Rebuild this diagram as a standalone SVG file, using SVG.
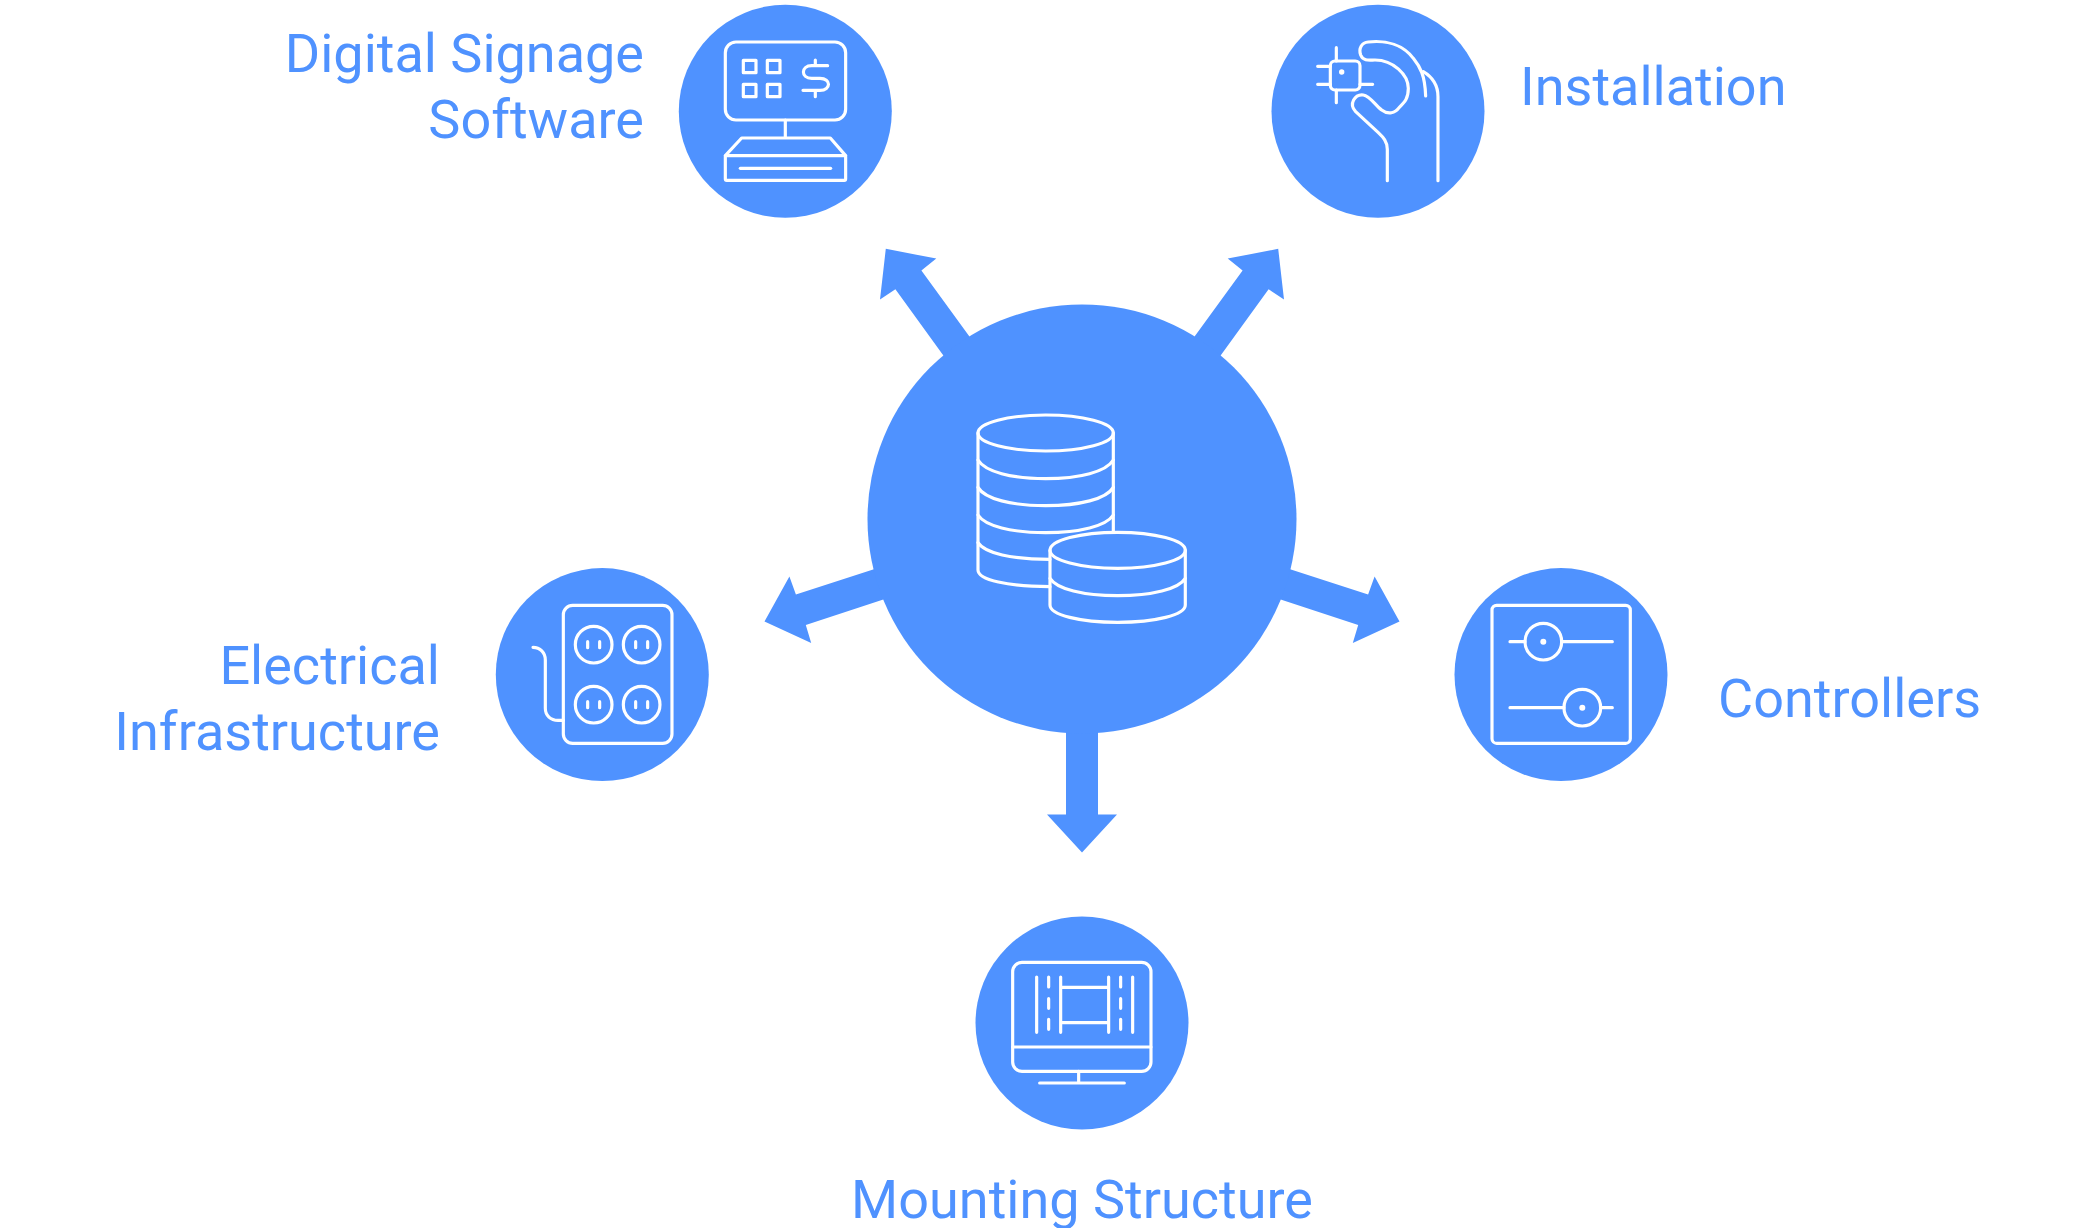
<svg xmlns="http://www.w3.org/2000/svg" width="2089" height="1228" viewBox="0 0 2089 1228">
<style>
.b{fill:#4f92ff}
.i{fill:none;stroke:#fff;stroke-width:9.5;stroke-linecap:round;stroke-linejoin:round}
.d{fill:#fff}
.t{font-family:Roboto,sans-serif;font-size:54px;fill:#4f92ff}
</style>
<rect width="2089" height="1228" fill="#fff"/>
<g id="connectors" class="b">
<polygon points="885.8,248.8 936.3,258.6 921.4,270.4 977.8,348 951.7,367 895.4,289.2 880,299.4"/>
<polygon points="1278.2,248.8 1227.7,258.6 1242.6,270.4 1186.2,348 1212.3,367 1268.6,289.2 1284,299.4"/>
<polygon points="764.5,621.4 789.4,576.5 795.9,594.5 887,565 897,595 805.8,625 811.2,643"/>
<polygon points="1399.5,621.4 1374.6,576.5 1368.1,594.5 1277,565 1267,595 1358.2,625 1352.8,643"/>
<polygon points="1066,725 1098,725 1098,814.5 1117,814.5 1082,852.4 1047,814.5 1066,814.5"/>
</g>
<g id="hub">
<circle class="b" cx="1082" cy="519" r="214.5"/>
<g class="i" transform="translate(940 390) scale(.3333)">
<ellipse cx="317" cy="129" rx="203" ry="54"/>
<path d="M114 129V540C114 570 205 590 330 590M520 129V424"/>
<path d="M114 210C135 245 215 266 317 266S499 245 520 210"/>
<path d="M114 292C135 327 215 347 317 347S499 327 520 292"/>
<path d="M114 375C135 408 215 428 317 428S499 408 520 375"/>
<path d="M114 458C135 490 215 508 330 508"/>
<ellipse cx="533" cy="481" rx="203" ry="54"/>
<path d="M330 481V645C330 675 420 697 533 697S736 675 736 645V481"/>
<path d="M330 565C350 597 430 617 533 617S716 597 736 565"/>
</g>
</g>
<g id="signage">
<circle class="b" cx="785.3" cy="111.3" r="106.5"/>
<g class="i" transform="translate(660 0) scale(.3333)">
<rect x="196" y="126" width="361" height="234" rx="32"/>
<rect x="250" y="181" width="38" height="37"/><rect x="322" y="181" width="38" height="37"/>
<rect x="250" y="253" width="38" height="37"/><rect x="322" y="253" width="38" height="37"/>
<path d="M503 197H455C422 197 422 235 455 235H480C514 235 514 271 480 271H429M466 180V197M466 271V290"/>
<path d="M376 360V414M196 467L245 414H511L557 467"/>
<rect x="196" y="467" width="361" height="74" rx="4"/>
<path d="M241 505H512"/>
</g>
</g>
<g id="installation">
<circle class="b" cx="1378" cy="111.3" r="106.5"/>
<g class="i" transform="translate(1260 0) scale(.3333)">
<rect x="211" y="183" width="89" height="87" rx="14"/>
<path d="M229 143V183M229 270V308M173 199H211M173 253H211M300 253H338"/>
<path d="M382 542V448C382 425 370 412 355 398L287 335C265 312 285 282 310 285C330 288 345 315 365 330C385 345 405 340 418 322C435 305 445 295 445 265C445 225 400 180 345 180C330 180 310 185 302 165C295 145 305 128 325 126C380 120 430 135 460 175C480 200 495 225 497 288"/>
<path d="M490 215C515 230 534 255 534 290V542"/>
</g>
<circle class="d" cx="1341.7" cy="72" r="2.7"/>
</g>
<g id="electrical">
<circle class="b" cx="602.3" cy="674.6" r="106.5"/>
<g class="i" transform="translate(490 560) scale(.3333)">
<rect x="220" y="136" width="326" height="414" rx="28"/>
<circle cx="311" cy="254" r="55"/><circle cx="455" cy="254" r="55"/>
<circle cx="311" cy="434" r="55"/><circle cx="455" cy="434" r="55"/>
<path d="M293 245V263M329 245V263M437 245V263M473 245V263M293 425V443M329 425V443M437 425V443M473 425V443"/>
<path d="M129 262C150 262 166 278 166 300V445C166 467 182 481 204 481H220"/>
</g>
</g>
<g id="controllers">
<circle class="b" cx="1561" cy="674.6" r="106.5"/>
<g class="i" transform="translate(1450 560) scale(.3333)">
<rect x="126" y="136" width="415" height="414" rx="14"/>
<circle cx="280" cy="245" r="55"/><circle cx="397" cy="443" r="55"/>
<path d="M180 245H225M335 245H487M180 443H342M452 443H487"/>
</g>
<circle class="d" cx="1543.3" cy="641.7" r="3"/>
<circle class="d" cx="1582.3" cy="707.7" r="3"/>
</g>
<g id="mounting">
<circle class="b" cx="1082" cy="1023" r="106.5"/>
<g class="i" transform="translate(970 920) scale(.3333)">
<rect x="128" y="127" width="415" height="327" rx="28"/>
<path d="M128 381H543M326 454V489M209 489H463"/>
<path d="M200 171V337M488 171V337M272 171V337M416 171V337M272 202H416M272 308H416"/>
<path d="M236 171V201M236 236V265M236 298V328M452 171V201M452 236V265M452 298V328"/>
</g>
</g>
<g id="labels" class="t">
<text x="644" y="72" text-anchor="end">Digital Signage</text>
<text x="644" y="138" text-anchor="end">Software</text>
<text x="1520" y="105">Installation</text>
<text x="440" y="684" text-anchor="end">Electrical</text>
<text x="440" y="750" text-anchor="end">Infrastructure</text>
<text x="1718" y="717">Controllers</text>
<text x="1082" y="1218" text-anchor="middle">Mounting Structure</text>
</g>
</svg>
